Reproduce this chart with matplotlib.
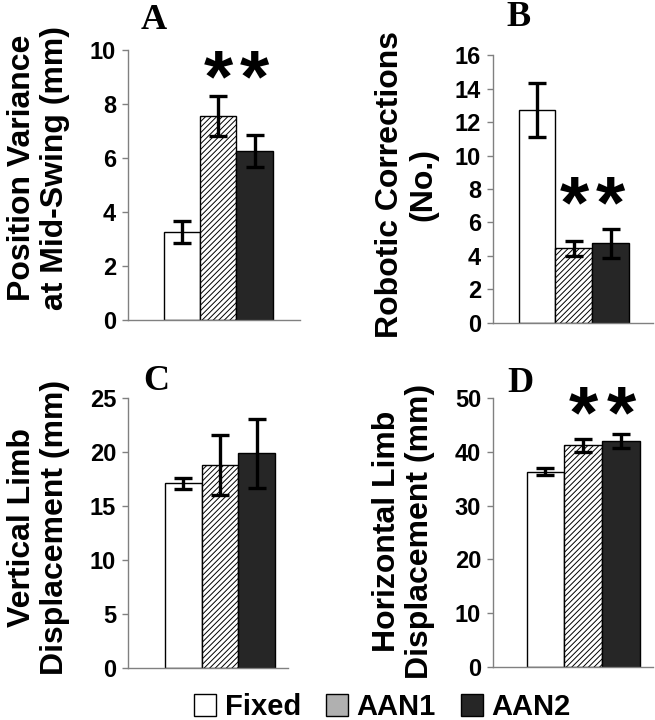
import numpy as np
import matplotlib
matplotlib.use("Agg")
import matplotlib.pyplot as plt
from matplotlib.patches import Patch

# data
groups = ["Fixed", "AAN1", "AAN2"]

pos_var = [3.25, 7.55, 6.25]
pos_var_err = [0.4, 0.75, 0.6]

corrections = [12.7, 4.45, 4.75]
corrections_err = [1.6, 0.45, 0.85]

vert_disp = [17.1, 18.8, 19.9]
vert_disp_err = [0.5, 2.8, 3.2]

horiz_disp = [36.3, 41.2, 42.0]
horiz_disp_err = [0.7, 1.2, 1.3]

# which groups get a star
stars_a = [1, 2]
stars_b = [1, 2]
stars_d = [1, 2]

plt.rcParams['font.family'] = ['Liberation Sans', 'DejaVu Sans']
plt.rcParams['hatch.linewidth'] = 0.7

dark = '#262626'
spine_col = '#808080'

fig = plt.figure(figsize=(6.55, 7.2), dpi=100)


def panel(rect, vals, errs, ylim, yticks, xlim, ylabel, label_xy, stars, star_y):
    ax = fig.add_axes(rect)
    x = np.arange(len(vals))
    bars = ax.bar(x, vals, width=1.0, color=['white', 'white', dark],
                  edgecolor='black', linewidth=1.0)
    bars[1].set_hatch('//////')
    ax.errorbar(x, vals, yerr=errs, fmt='none', ecolor='black',
                elinewidth=2.4, capsize=6.5, capthick=2.4)
    ax.set_ylim(*ylim)
    ax.set_xlim(*xlim)
    ax.set_yticks(yticks)
    ax.set_xticks([])
    for s in ['top', 'right']:
        ax.spines[s].set_visible(False)
    for s in ['left', 'bottom']:
        ax.spines[s].set_color(spine_col)
        ax.spines[s].set_linewidth(1.0)
    ax.tick_params(axis='y', direction='out', length=4.5, width=1.0,
                   color=spine_col, pad=4, labelsize=17)
    for t in ax.get_yticklabels():
        t.set_fontweight('bold')
    ax.set_ylabel(ylabel, fontsize=23, fontweight='bold', linespacing=1.15)
    ax.yaxis.set_label_coords(*label_xy)
    for i in stars:
        ax.annotate('*', xy=(x[i], star_y), xytext=(0, -25),
                    textcoords='offset points', ha='center', va='baseline',
                    fontsize=54, fontweight='bold')
    return ax


panel([0.1954, 0.5556, 0.2626, 0.375], pos_var, pos_var_err,
      (0, 10), [0, 2, 4, 6, 8, 10], (-1.49, 3.25),
      "Position Variance\nat Mid-Swing (mm)", (-0.337, 0.563),
      stars_a, 9.37)

panel([0.7527, 0.5514, 0.2443, 0.3722], corrections, corrections_err,
      (0, 16), [0, 2, 4, 6, 8, 10, 12, 14, 16], (-1.19, 3.14),
      "Robotic Corrections\n(No.)", (-0.344, 0.515),
      stars_b, 7.76)

panel([0.1954, 0.0722, 0.244, 0.375], vert_disp, vert_disp_err,
      (0, 25), [0, 5, 10, 15, 20, 25], (-1.5, 2.84),
      "Vertical Limb\nDisplacement (mm)", (-0.3625, 0.52),
      [], 0)

panel([0.7527, 0.0736, 0.2443, 0.3736], horiz_disp, horiz_disp_err,
      (0, 50), [0, 10, 20, 30, 40, 50], (-1.39, 2.85),
      "Horizontal Limb\nDisplacement (mm)", (-0.3625, 0.505),
      stars_d, 49.1)

# panel letters
for txt, (px, py) in zip("ABCD", [(0.235, 0.972), (0.791, 0.976),
                                   (0.238, 0.47), (0.795, 0.467)]):
    fig.text(px, py, txt, family='Liberation Serif', fontweight='bold',
             fontsize=26, ha='center', va='center')

handles = [Patch(facecolor='white', edgecolor='black', label='Fixed'),
           Patch(facecolor='#b0b0b0', edgecolor='black', label='AAN1'),
           Patch(facecolor=dark, edgecolor='black', label='AAN2')]
fig.legend(handles=handles, loc='center', bbox_to_anchor=(0.584, 0.018),
           ncol=3, frameon=False, handlelength=0.75, handleheight=0.75,
           handletextpad=0.3, columnspacing=0.85,
           prop={'weight': 'bold', 'size': 21})

fig.savefig('out.png', dpi=100)
